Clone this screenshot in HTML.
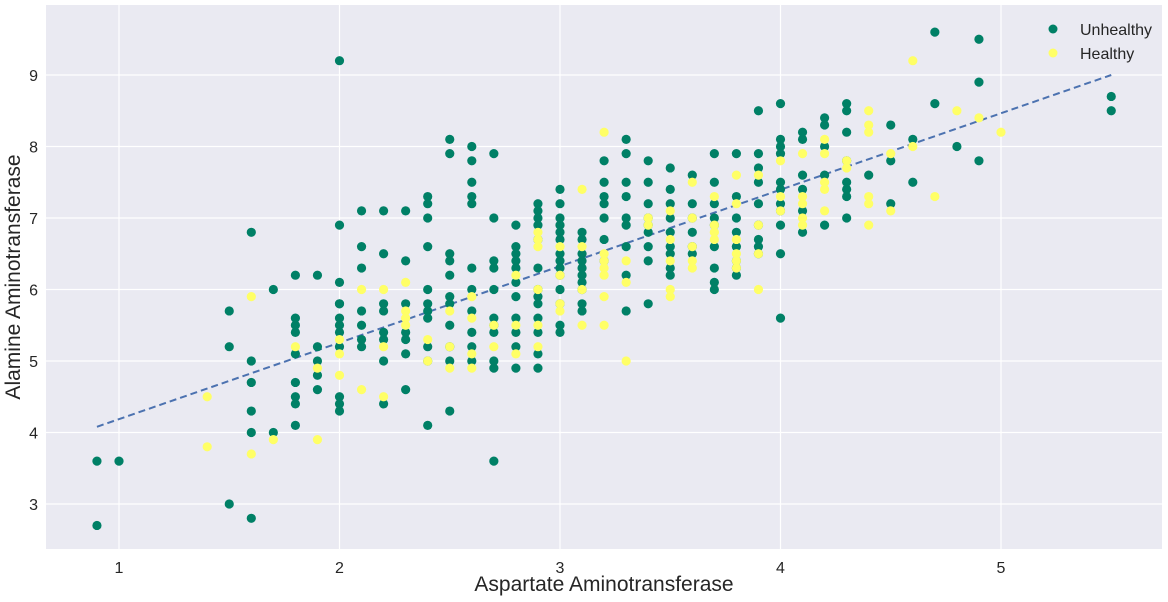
<!DOCTYPE html>
<html><head><meta charset="utf-8"><style>
html,body{margin:0;padding:0;background:#fff;}
svg{display:block;font-family:"Liberation Sans",Arial,sans-serif;}
</style></head><body>
<svg id="chart" width="1168" height="602" viewBox="0 0 1168 602" xmlns="http://www.w3.org/2000/svg">
<rect x="46" y="5" width="1116" height="544" fill="#eaeaf2"/>
<g id="grid"></g>
<g id="ticks"></g>
<line id="fit" stroke="#4c72b0" stroke-width="2" stroke-dasharray="7,4"/>
<g id="pts"></g>
<text x="604" y="591" font-size="21" text-anchor="middle" fill="#262626">Aspartate Aminotransferase</text>
<text transform="translate(20,277) rotate(-90)" font-size="21" text-anchor="middle" fill="#262626">Alamine Aminotransferase</text>
<g>
<circle cx="1053" cy="29" r="4.5" fill="#008066"/>
<text x="1080" y="35" font-size="16" fill="#262626">Unhealthy</text>
<circle cx="1053" cy="53" r="4.5" fill="#ffff66"/>
<text x="1080" y="59" font-size="16" fill="#262626">Healthy</text>
</g>
</svg>
<script>
const xTicks = [1, 2, 3, 4, 5];
const yTicks = [3, 4, 5, 6, 7, 8, 9];
const fitLine = [[0.9, 4.08], [5.5, 9.0]];
const unhealthy = [
[0.9,3.6,2.7],[1.0,3.6],[1.5,5.7,5.2,3.0],[1.6,6.8,5.0,4.7,4.3,4.0,2.8],[1.7,6.0,4.0],
[1.8,6.2,5.6,5.5,5.4,5.1,4.7,4.5,4.4,4.1],[1.9,6.2,5.2,5.0,4.8,4.6],
[2.0,9.2,6.9,6.1,5.8,5.8,5.6,5.5,5.4,5.2,4.5,4.4,4.3],[2.1,7.1,6.6,6.3,5.7,5.5,5.3,5.2],
[2.2,7.1,6.5,5.8,5.7,5.4,5.3,5.0,4.4],[2.3,7.1,6.4,5.8,5.4,5.3,5.1,4.6],
[2.4,7.3,7.2,7.0,6.6,6.0,5.8,5.7,5.6,5.2,5.0,4.1],[2.5,8.1,7.9,6.5,6.4,6.2,5.9,5.8,5.5,5.2,5.0,4.3],
[2.6,8.0,7.8,7.5,7.3,7.2,6.3,6.0,5.7,5.4,5.2,5.0],[2.7,7.9,7.0,6.4,6.3,6.0,5.6,5.5,5.4,5.0,4.9,3.6],
[2.8,6.9,6.6,6.5,6.4,6.3,6.1,5.9,5.6,5.4,5.2,4.9],[2.9,7.2,7.1,7.0,6.9,6.7,6.3,6.0,5.9,5.8,5.6,5.4,5.1,4.9],
[3.0,7.4,7.2,7.0,6.9,6.8,6.7,6.5,6.4,6.3,6.2,6.0,5.8,5.5,5.4],[3.1,6.8,6.7,6.5,6.4,6.3,6.2,6.1,6.0,5.8,5.7],
[3.2,7.8,7.5,7.3,7.2,7.0,6.7,6.4],[3.3,8.1,7.9,7.5,7.3,7.0,6.9,6.6,6.2,5.7],
[3.4,7.8,7.5,7.2,7.0,6.9,6.8,6.6,6.4,5.8],[3.5,7.7,7.4,7.2,7.0,6.8,6.6,6.5,6.3,6.2],
[3.6,7.6,7.2,7.0,6.8,6.6,6.5],[3.7,7.9,7.5,7.2,7.0,6.9,6.6,6.3,6.1,6.0],
[3.8,7.9,7.3,7.0,6.8,6.6,6.4,6.3,6.2],[3.9,8.5,7.9,7.7,7.5,7.2,6.9,6.7,6.6,6.5],
[4.0,8.6,8.1,8.0,7.9,7.5,7.4,7.2,7.1,6.9,6.5,5.6],[4.1,8.2,8.1,7.6,7.4,7.1,6.8],
[4.2,8.4,8.3,8.0,7.6,6.9],[4.3,8.6,8.5,8.2,7.8,7.5,7.4,7.3,7.0],[4.4,7.6],[4.5,8.3,7.8,7.2],
[4.6,8.1,7.5],[4.7,9.6,8.6],[4.8,8.0],[4.9,9.5,8.9,7.8],[5.5,8.7,8.5]
];
const healthy = [
[1.4,4.5,3.8],[1.6,5.9,3.7],[1.7,3.9],[1.8,5.2],[1.9,4.9,3.9],[2.0,5.3,5.1,4.8],[2.1,6.0,4.6],
[2.2,6.0,5.2,4.5],[2.3,6.1,5.7,5.6,5.5],[2.4,5.3,5.0],[2.5,5.7,5.2,4.9],[2.6,5.9,5.6,5.1,4.9],
[2.7,5.5,5.2],[2.8,6.2,5.5,5.1],[2.9,6.8,6.7,6.6,6.0,5.5,5.2],[3.0,6.6,6.2,5.8,5.7],
[3.1,7.4,6.6,6.0,5.5],[3.2,8.2,6.5,6.4,6.3,6.2,5.9,5.5],[3.3,6.4,6.1,5.0],[3.4,7.0,6.9],
[3.5,7.1,6.7,6.4,6.0,5.9],[3.6,7.5,7.0,6.6,6.4,6.3],[3.7,7.3,6.9,6.8,6.7],
[3.8,7.6,7.2,6.7,6.4,6.3,6.5],[3.9,7.6,6.9,6.0,6.5],[4.0,7.8,7.3,7.1],[4.1,7.9,7.3,7.2,7.0,6.9],
[4.2,8.1,7.9,7.5,7.4,7.1],[4.3,7.8,7.7],[4.4,8.5,8.3,8.2,7.3,7.2,6.9],[4.5,7.9,7.1],
[4.6,9.2,8.0],[4.7,7.3],[4.8,8.5],[4.9,8.4],[5.0,8.2]
];
const L=46,R=1162,T=5,B=549;
const xMin=1-73/220.5, xMax=5+161/220.5, yMin=3-45/71.5, yMax=9+70/71.5;
const sx=v=>L+(v-xMin)/(xMax-xMin)*(R-L);
const sy=v=>B-(v-yMin)/(yMax-yMin)*(B-T);
const NS="http://www.w3.org/2000/svg";
const grid=document.getElementById('grid'), ticks=document.getElementById('ticks'), pts=document.getElementById('pts');
xTicks.forEach(t=>{
  const l=document.createElementNS(NS,'line');
  
  
  l.setAttribute('x1',sx(t));l.setAttribute('x2',sx(t));l.setAttribute('y1',T);l.setAttribute('y2',B);
  l.setAttribute('stroke','#fff');l.setAttribute('stroke-width','1.2');grid.appendChild(l);
  const tx=document.createElementNS(NS,'text');
  
  
  tx.setAttribute('x',sx(t));tx.setAttribute('y',573);tx.setAttribute('font-size','16');
  tx.setAttribute('text-anchor','middle');tx.setAttribute('fill','#262626');tx.textContent=t;ticks.appendChild(tx);
});
yTicks.forEach(t=>{
  const l=document.createElementNS(NS,'line');
  
  
  l.setAttribute('x1',L);l.setAttribute('x2',R);l.setAttribute('y1',sy(t));l.setAttribute('y2',sy(t));
  l.setAttribute('stroke','#fff');l.setAttribute('stroke-width','1.2');grid.appendChild(l);
  const tx=document.createElementNS(NS,'text');
  
  
  tx.setAttribute('x',38);tx.setAttribute('y',sy(t)+6);tx.setAttribute('font-size','16');
  tx.setAttribute('text-anchor','end');tx.setAttribute('fill','#262626');tx.textContent=t;ticks.appendChild(tx);
});
const fit=document.getElementById('fit');
fit.setAttribute('x1',sx(fitLine[0][0]));fit.setAttribute('y1',sy(fitLine[0][1]));
fit.setAttribute('x2',sx(fitLine[1][0]));fit.setAttribute('y2',sy(fitLine[1][1]));
function draw(series,color,name){
  series.forEach(col=>{
    for(let i=1;i<col.length;i++){
      const c=document.createElementNS(NS,'circle');
      
      
      c.setAttribute('cx',sx(col[0]));c.setAttribute('cy',sy(col[i]));c.setAttribute('r','4.6');
      c.setAttribute('fill',color);pts.appendChild(c);
    }
  });
}
draw(unhealthy,'#008066','point-unhealthy');
draw(healthy,'#ffff66','point-healthy');
</script>
</body></html>
